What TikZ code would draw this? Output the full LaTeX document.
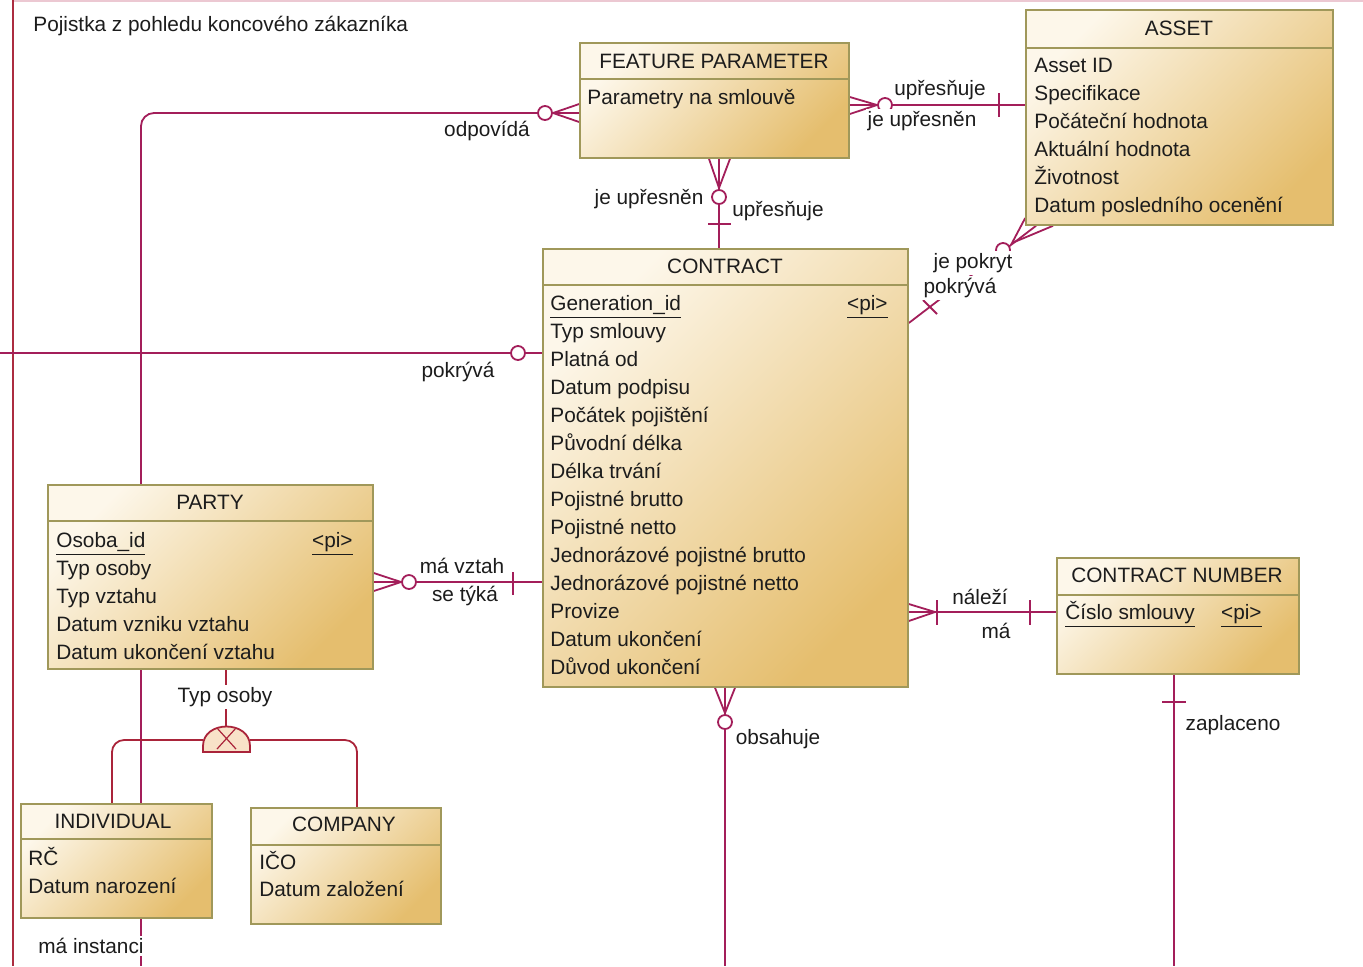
\documentclass[tikz,border=0pt]{standalone}
\usepackage{fontspec}
\setmainfont{Liberation Sans}
\usetikzlibrary{fit}

\pgfdeclarelayer{background}
\pgfsetlayers{background,main}

\definecolor{relcol}{RGB}{163,30,90}
\definecolor{inhcol}{RGB}{170,36,58}
\definecolor{framecol}{RGB}{172,44,64}
\definecolor{framelight}{RGB}{236,200,210}
\definecolor{boxedge}{RGB}{160,152,90}
\definecolor{boxlight}{RGB}{253,247,234}
\definecolor{boxdark}{RGB}{229,190,110}
\definecolor{domefill}{RGB}{248,226,200}
\definecolor{txtcol}{RGB}{28,28,28}

\tikzset{
  entity/.style={draw=boxedge, line width=0.8pt, inner sep=0pt,
    shading=axis, top color=boxlight, bottom color=boxdark, shading angle=45},
  hdr/.style={draw=boxedge, line width=0.8pt},
  etitle/.style={anchor=base, inner sep=0pt, text=txtcol},
  attr/.style={anchor=base west, inner sep=0pt, text=txtcol},
  lbl/.style={fill=white, inner sep=1pt, text=txtcol},
  rel/.style={draw=relcol, line width=0.9pt},
  inh/.style={draw=inhcol, line width=0.9pt},
  zero/.style={circle, draw=relcol, line width=0.9pt, fill=white,
    minimum size=7pt, inner sep=0pt}
}

\begin{document}
\begin{tikzpicture}[x=0.5pt, y=-0.5pt, font=\fontsize{10.4}{12}\selectfont]
  \useasboundingbox (0,0) rectangle (1363,966);

  % entities
  \node[entity, fit={(580,43) (849,158)}] (fp) {};
  \node[entity, fit={(1026,10) (1333,225)}] (asset) {};
  \node[entity, fit={(543,249) (908,687)}] (contract) {};
  \node[entity, fit={(48,485) (373,669)}] (party) {};
  \node[entity, fit={(1057,558) (1299,674)}] (cn) {};
  \node[entity, fit={(21,804) (212,918)}] (indiv) {};
  \node[entity, fit={(251,808) (441,924)}] (company) {};

  \draw[hdr] (fp.west |- 0,79) -- (fp.east |- 0,79);
  \draw[hdr] (asset.west |- 0,48) -- (asset.east |- 0,48);
  \draw[hdr] (contract.west |- 0,285) -- (contract.east |- 0,285);
  \draw[hdr] (party.west |- 0,521) -- (party.east |- 0,521);
  \draw[hdr] (cn.west |- 0,595) -- (cn.east |- 0,595);
  \draw[hdr] (indiv.west |- 0,839) -- (indiv.east |- 0,839);
  \draw[hdr] (company.west |- 0,845) -- (company.east |- 0,845);

  \node[etitle] (fp-t) at (714,68) {FEATURE PARAMETER};
  \node[etitle] (asset-t) at (1179,35) {ASSET};
  \node[etitle] (contract-t) at (725,273) {CONTRACT};
  \node[etitle] (party-t) at (210,509) {PARTY};
  \node[etitle] (cn-t) at (1177,582) {CONTRACT NUMBER};
  \node[etitle] (indiv-t) at (113,828) {INDIVIDUAL};
  \node[etitle] (company-t) at (344,831) {COMPANY};

  % attributes
  \node[attr] (fp-a0) at (587,104) {Parametry na smlouvě};
  \foreach \a [count=\i from 0] in {Asset ID, Specifikace, Počáteční hodnota,
      Aktuální hodnota, Životnost, Datum posledního ocenění}
    \node[attr] (asset-a\i) at (1034,72+28*\i) {\a};
  \node[attr] (contract-a0) at (550,310) {\underline{Generation\_id}};
  \node[attr, anchor=base east] (contract-pi) at (888,310) {\underline{\textless pi\textgreater}};
  \foreach \a [count=\i from 1] in {Typ smlouvy, Platná od, Datum podpisu,
      Počátek pojištění, Původní délka, Délka trvání, Pojistné brutto,
      Pojistné netto, Jednorázové pojistné brutto, Jednorázové pojistné netto,
      Provize, Datum ukončení, Důvod ukončení}
    \node[attr] (contract-a\i) at (550,310+28*\i) {\a};
  \node[attr] (party-a0) at (56,547) {\underline{Osoba\_id}};
  \node[attr, anchor=base east] (party-pi) at (353,547) {\underline{\textless pi\textgreater}};
  \foreach \a [count=\i from 1] in {Typ osoby, Typ vztahu, Datum vzniku vztahu,
      Datum ukončení vztahu}
    \node[attr] (party-a\i) at (56,547+28*\i) {\a};
  \node[attr] (cn-a0) at (1065,619) {\underline{Číslo smlouvy}};
  \node[attr, anchor=base east] (cn-pi) at (1262,619) {\underline{\textless pi\textgreater}};
  \node[attr] (indiv-a0) at (28,865) {RČ};
  \node[attr] (indiv-a1) at (28,893) {Datum narození};
  \node[attr] (company-a0) at (259,869) {IČO};
  \node[attr] (company-a1) at (259,896) {Datum založení};

  \node[anchor=west, inner sep=0pt, text=txtcol] (title) at (33,26)
    {Pojistka z pohledu koncového zákazníka};

  % generalisation symbol
  \coordinate (genL) at (203,740);
  \coordinate (genR) at (250,740);
  \coordinate (genT) at (226,726);
  \filldraw[inh, fill=domefill] (203,752) -- (203,746)
    .. controls (203,720) and (250,720) .. (250,746) -- (250,752) -- cycle;
  \draw[inh, line width=0.6pt] (217,728) -- (236,749) (236,728) -- (217,749);

  % free ends
  \coordinate (offL) at (0,353);
  \coordinate (offP) at (141,966);
  \coordinate (offC) at (725,966);
  \coordinate (offN) at (1174,966);

  \begin{pgfonlayer}{background}
    \fill[white] (0,0) rectangle (1363,966);
    \draw[draw=framelight, line width=1pt] (12,1) -- (1363,1);
    \draw[draw=framecol, line width=1.1pt] (13,0) -- (13,966);

    % odpovida
    \draw[rel, rounded corners=6.5pt] (fp.west |- 0,113) -- (141,113) -- (party.north -| 141,0);
    \draw[rel] (fp.west |- 0,104) -- (553,113) -- (fp.west |- 0,122);
    % pokryva (left)
    \draw[rel] (offL) -- (contract.west |- offL);
    % feature parameter - asset
    \draw[rel] (fp.east |- 0,105) -- (asset.west |- 0,105);
    \draw[rel] (fp.east |- 0,97) -- (877,105) -- (fp.east |- 0,114);
    \draw[rel] (999,93) -- (999,117);
    % feature parameter - contract
    \draw[rel] (fp.south -| 719,0) -- (contract.north -| 719,0);
    \draw[rel] (fp.south -| 709,0) -- (719,188) -- (fp.south -| 730,0);
    \draw[rel] (708,224) -- (731,224);
    % asset - contract
    \draw[rel] (contract.east |- 0,323) -- (asset.south -| 1036,0);
    \draw[rel] (asset.west |- 0,218) -- (1012,243) -- (asset.south -| 1053,0);
    \draw[rel] (923,300) -- (937,314);
    % party - contract
    \draw[rel] (party.east |- 0,582) -- (contract.west |- 0,582);
    \draw[rel] (party.east |- 0,573) -- (401,582) -- (party.east |- 0,591);
    \draw[rel] (513,572) -- (513,595);
    % contract - contract number
    \draw[rel] (contract.east |- 0,612) -- (cn.west |- 0,612);
    \draw[rel] (contract.east |- 0,604) -- (935,612) -- (contract.east |- 0,621);
    \draw[rel] (937,600) -- (937,625);
    \draw[rel] (1030,600) -- (1030,625);
    % contract - down
    \draw[rel] (contract.south -| 725,0) -- (offC);
    \draw[rel] (contract.south -| 715,0) -- (725,713) -- (contract.south -| 735,0);
    % contract number - down
    \draw[rel] (cn.south -| 1174,0) -- (offN);
    \draw[rel] (1162,702) -- (1186,702);
    % party - down
    \draw[rel] (party.south -| 141,0) -- (offP);
    % generalisation
    \draw[inh] (party.south -| 226,0) -- (genT);
    \draw[inh, rounded corners=6pt] (genL) -- (112,740) -- (indiv.north -| 112,0);
    \draw[inh, rounded corners=6pt] (genR) -- (357,740) -- (company.north -| 357,0);
  \end{pgfonlayer}

  % optional ends
  \node[zero] (z-odp) at (545,113) {};
  \node[zero] (z-pok) at (518,353) {};
  \node[zero] (z-fpa) at (885,105) {};
  \node[zero] (z-fpc) at (719,197) {};
  \node[zero] (z-asc) at (1003,250) {};
  \node[zero] (z-pc) at (409,582) {};
  \node[zero] (z-obs) at (725,722) {};

  % role labels
  \node[lbl] (l-odp) at (487,131) {odpovídá};
  \node[lbl] (l-pok) at (458,372) {pokrývá};
  \node[lbl] (l-fpa1) at (940,90) {upřesňuje};
  \node[lbl] (l-fpa2) at (922,121) {je upřesněn};
  \node[lbl] (l-fpc1) at (649,199) {je upřesněn};
  \node[lbl] (l-fpc2) at (778,211) {upřesňuje};
  \node[lbl] (l-asc1) at (973,263) {je pokryt};
  \node[lbl] (l-asc2) at (960,288) {pokrývá};
  \node[lbl] (l-pc1) at (462,566) {má vztah};
  \node[lbl] (l-pc2) at (465,596) {se týká};
  \node[lbl] (l-ccn1) at (980,597) {náleží};
  \node[lbl] (l-ccn2) at (996,631) {má};
  \node[lbl] (l-obs) at (778,739) {obsahuje};
  \node[lbl] (l-zap) at (1233,725) {zaplaceno};
  \node[lbl] (l-typ) at (225,697) {Typ osoby};
  \node[lbl] (l-ins) at (91,946) {má instanci};
\end{tikzpicture}
\end{document}
